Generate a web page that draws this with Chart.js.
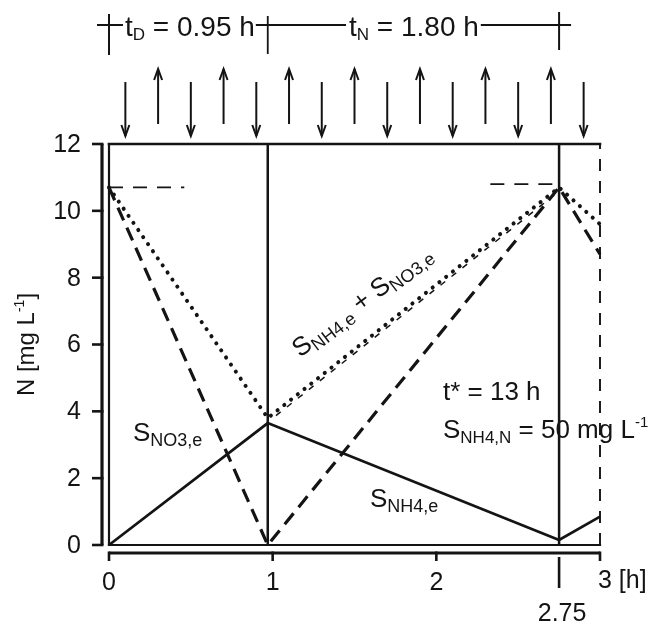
<!DOCTYPE html>
<html><head><meta charset="utf-8">
<script src="https://cdn.jsdelivr.net/npm/chart.js@4/dist/chart.umd.min.js"></script>
<style>html,body{margin:0;padding:0;background:#fff}#wrap{width:659px;height:626px}</style>
</head><body><div id="wrap"><canvas id="c" width="659" height="626"></canvas></div>
<script>
// ---- data ----
const xTicks = [0, 1, 2, 3];
const xTickLabels = ['0', '1', '2', '3 [h]'];
const yTicks = [0, 2, 4, 6, 8, 10, 12];
const markT = 2.75;                    // extra marker below the axis
const phaseT = [0, 0.97, 2.75];        // tD / tN boundaries
const endT = 3;
const nh4T = [0, 0.97, 2.75, 3];
const nh4N = [0, 3.65, 0.15, 0.85];
const no3T = [0, 0.97, 2.75, 3];
const no3N = [10.7, 0, 10.7, 8.7];
const sumT = [0, 0.97, 2.75, 3];
const sumN = [10.7, 3.8, 10.7, 9.6];
const guideT = [1.02, 2.72];
const guideN = [3.87, 10.47];
const refLT = [0, 0.46], refLN = [10.7, 10.7];
const refRT = [2.33, 2.75], refRN = [10.8, 10.8];
const arrowsDownT = [0.1, 0.5, 0.9, 1.3, 1.7, 2.1, 2.5, 2.9];
const arrowsUpT = [0.3, 0.7, 1.1, 1.5, 1.9, 2.3, 2.7];

const F = '"Liberation Sans", Arial, Helvetica, sans-serif';
const INK = '#141414';
const pts = (T, N) => T.map((t, i) => ({x: t, y: N[i]}));

function runs(ctx, parts, x, y) {
  let cx = x;
  for (const p of parts) {
    ctx.font = p.s + 'px ' + F;
    ctx.fillText(p.t, cx, y + (p.dy || 0));
    cx += ctx.measureText(p.t).width;
  }
  return cx;
}
function runsW(ctx, parts) {
  let w = 0;
  for (const p of parts) { ctx.font = p.s + 'px ' + F; w += ctx.measureText(p.t).width; }
  return w;
}
function seg(ctx, x1, y1, x2, y2, w) {
  ctx.lineWidth = w; ctx.beginPath(); ctx.moveTo(x1, y1); ctx.lineTo(x2, y2); ctx.stroke();
}
function arrow(ctx, x, yTail, yTip) {
  seg(ctx, x, yTail, x, yTip, 2);
  const d = yTip > yTail ? -1 : 1;
  ctx.lineWidth = 2; ctx.beginPath();
  ctx.moveTo(x - 4, yTip + d * 11); ctx.lineTo(x, yTip); ctx.lineTo(x + 4, yTip + d * 11); ctx.stroke();
}

const decor = {
  id: 'decor',
  beforeDraw(chart) {
    const c = chart.ctx; c.save(); c.fillStyle = '#fff'; c.fillRect(0, 0, chart.width, chart.height); c.restore();
  },
  beforeDatasetsDraw(chart) {
    const c = chart.ctx, xs = chart.scales.x, ys = chart.scales.y;
    c.save(); c.strokeStyle = INK; c.lineCap = 'square';
    const x0 = xs.getPixelForValue(0), x3 = xs.getPixelForValue(endT);
    const y0 = ys.getPixelForValue(0), y12 = ys.getPixelForValue(12);
    seg(c, x0, y12, x3, y12, 2.6);   // top border
    seg(c, x0, y12, x0, y0, 2.2);    // left border
    seg(c, x0, y0, x3, y0, 2.2);     // baseline
    c.restore();
  },
  afterDraw(chart) {
    const c = chart.ctx, xs = chart.scales.x, ys = chart.scales.y;
    c.save(); c.strokeStyle = INK; c.fillStyle = INK; c.lineCap = 'butt';
    const X = v => xs.getPixelForValue(v), Y = v => ys.getPixelForValue(v);
    const x0 = X(0), x3 = X(endT), y0 = Y(0), y12 = Y(12);
    // y axis (detached)
    const ax = x0 - 7;
    seg(c, ax, y12, ax, y0, 3.2);
    c.font = '25px ' + F; c.textAlign = 'right'; c.textBaseline = 'middle';
    yTicks.forEach(v => { seg(c, ax + 1.5, Y(v), ax - 10, Y(v), 2.6); c.fillText(String(v), ax - 21, Y(v) + 1); });
    // x axis (detached)
    const ay = y0 + 8;
    seg(c, x0, ay, x3, ay, 3.2);
    c.textBaseline = 'alphabetic';
    xTicks.forEach((v, i) => {
      seg(c, X(v), ay - 1.5, X(v), ay + 8, 2.6);
      c.font = '25px ' + F;
      if (i === xTicks.length - 1) { c.textAlign = 'left'; c.fillText(xTickLabels[i], X(v) - 2, 588); }
      else { c.textAlign = 'center'; c.fillText(xTickLabels[i], X(v), 590); }
    });
    seg(c, X(markT), ay + 4, X(markT), ay + 35, 2.6);
    c.textAlign = 'center'; c.font = '25px ' + F;
    c.fillText('2.75', X(markT) + 3, 621);
    // y title
    c.save(); c.translate(34, (y0 + y12) / 2); c.rotate(-Math.PI / 2); c.textAlign = 'left';
    const tp = [{t: 'N [mg L', s: 24}, {t: '-1', s: 14, dy: -10}, {t: ']', s: 24}];
    runs(c, tp, -runsW(c, tp) / 2, 0);
    c.restore();
    // header
    c.textAlign = 'left';
    const hy = 25;
    const hd = [{t: 't', s: 28}, {t: 'D', s: 17, dy: 4}, {t: ' = 0.95 h', s: 28}];
    const hn = [{t: 't', s: 28}, {t: 'N', s: 17, dy: 4}, {t: ' = 1.80 h', s: 28}];
    const xa = X(phaseT[0]), xb = X(phaseT[1]), xc = X(phaseT[2]);
    seg(c, xa - 12, hy, xa + 14, hy, 2);
    seg(c, xa, 14, xa, 55, 2);
    const e1 = runs(c, hd, xa + 16, 36);
    const s2 = 349;
    seg(c, e1 + 1, hy, s2 - 3, hy, 1.8);
    seg(c, xb, 16, xb, 54, 1.8);
    const e2 = runs(c, hn, s2, 36);
    seg(c, e2 + 2, hy, xc + 12, hy, 1.8);
    seg(c, xc, 12, xc, 50, 2);
    // aeration arrows
    arrowsDownT.forEach(t => arrow(c, X(t), 82, 136));
    arrowsUpT.forEach(t => arrow(c, X(t), 124, 69));
    // annotations
    runs(c, [{t: 'S', s: 26}, {t: 'NO3,e', s: 18, dy: 5}], 133, 441);
    runs(c, [{t: 'S', s: 26}, {t: 'NH4,e', s: 18, dy: 5}], 370, 507);
    runs(c, [{t: 't* = 13 h', s: 26}], 443, 400);
    runs(c, [{t: 'S', s: 26}, {t: 'NH4,N', s: 17, dy: 5}, {t: ' = 50 mg L', s: 26}, {t: '-1', s: 15, dy: -11}], 443, 438);
    c.save(); c.translate(300, 358); c.rotate(-37 * Math.PI / 180);
    runs(c, [{t: 'S', s: 26}, {t: 'NH4,e', s: 18, dy: 5}, {t: ' + S', s: 26}, {t: 'NO3,e', s: 18, dy: 5}], 0, 0);
    c.restore();
    c.restore();
  }
};

const ds = (data, extra) => Object.assign({data, borderColor: INK, backgroundColor: INK, pointRadius: 0, tension: 0, clip: 8, fill: false}, extra);

new Chart(document.getElementById('c'), {
  type: 'line',
  data: {datasets: [
    ds(pts(nh4T, nh4N), {label: 'S_NH4,e', borderWidth: 2.8}),
    ds(pts(no3T, no3N), {label: 'S_NO3,e', borderWidth: 3.2, borderDash: [14, 8]}),
    ds(pts(sumT, sumN), {label: 'S_NH4,e + S_NO3,e', borderWidth: 4, borderDash: [0.1, 8.5], borderCapStyle: 'round'}),
    ds(pts(guideT, guideN), {label: 'guide', borderWidth: 1.5, borderDash: [6, 8]}),
    ds(pts(refLT, refLN), {label: 'ref left', borderWidth: 1.8, borderDash: [14, 10]}),
    ds(pts(refRT, refRN), {label: 'ref right', borderWidth: 1.8, borderDash: [14, 10]}),
    ds(pts([phaseT[1], phaseT[1]], [0, 12]), {label: 'tD end', borderWidth: 2.5}),
    ds(pts([phaseT[2], phaseT[2]], [0, 12]), {label: 'tN end', borderWidth: 2.5}),
    ds(pts([endT, endT], [0, 12]), {label: 'cycle end', borderWidth: 1.9, borderDash: [12, 10]})
  ]},
  options: {
    responsive: false, animation: false, events: [],
    layout: {padding: {left: 109, right: 59, top: 144, bottom: 81}},
    scales: {
      x: {type: 'linear', min: 0, max: 3, display: false},
      y: {type: 'linear', min: 0, max: 12, display: false}
    },
    plugins: {legend: {display: false}, tooltip: {enabled: false}}
  },
  plugins: [decor]
});
</script>
</body></html>
